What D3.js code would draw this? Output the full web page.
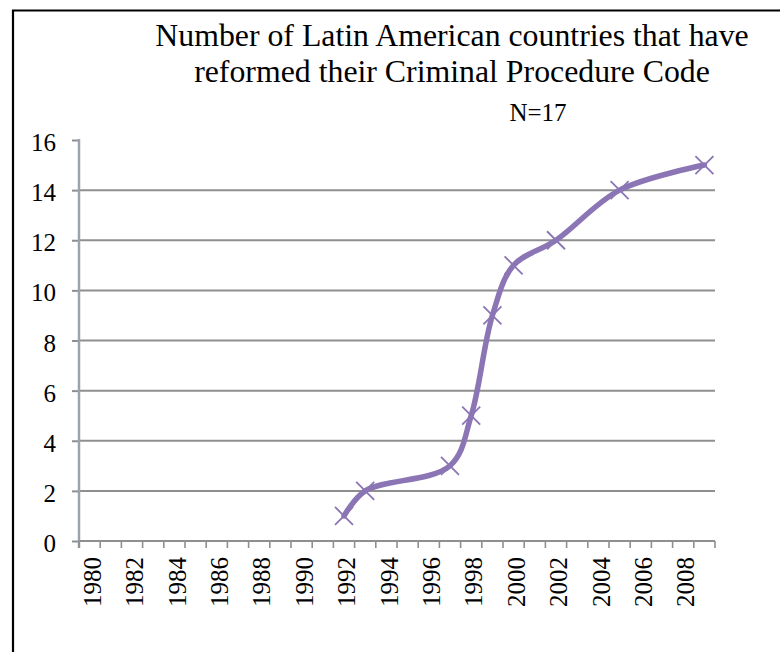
<!DOCTYPE html>
<html>
<head>
<meta charset="utf-8">
<script src="https://cdn.jsdelivr.net/npm/d3@7"></script>
<style>
  html, body { margin: 0; padding: 0; background: #fff; }
  svg { display: block; }
  text { font-family: "Liberation Serif", "Times New Roman", serif; fill: #000; }
</style>
</head>
<body>
<svg id="chart" width="780" height="652"></svg>
<script>
// Years on the category axis (one band per year)
const years = d3.range(1980, 2010);
// Years in which the cumulative count changed, and the count reached
const reformYears = [1992, 1993, 1997, 1998, 1999, 2000, 2002, 2005, 2009];
const reformCounts = [1, 2, 3, 5, 9, 11, 12, 14, 15];
// Axis tick labels
const xTickLabels = d3.range(1980, 2010, 2);
const yTicks = [0, 2, 4, 6, 8, 10, 12, 14, 16];

const titleLines = ["Number of Latin American countries that have", "reformed their Criminal Procedure Code"];
const subtitle = "N=17";

const svg = d3.select("#chart");
const W = 780, H = 652;
const plot = { left: 79, right: 715, top: 140, bottom: 541 };

// Outer frame of the chart
svg.append("path")
  .attr("d", `M13,${H + 5}V10.5H${W + 5}`)
  .attr("fill", "none").attr("stroke", "#000").attr("stroke-width", 2.2);

const x = d3.scaleBand().domain(years).range([plot.left, plot.right]).paddingInner(0).paddingOuter(0);
const y = d3.scaleLinear().domain([0, 16]).range([plot.bottom, plot.top]);

// Gradient for the top edge of the plot area
const defs = svg.append("defs");
const grad = defs.append("linearGradient").attr("id", "topEdge").attr("x1", "0%").attr("x2", "100%");
grad.append("stop").attr("offset", "0%").attr("stop-color", "#4f86c6");
grad.append("stop").attr("offset", "60%").attr("stop-color", "#a9c2e0");
grad.append("stop").attr("offset", "100%").attr("stop-color", "#f4f7fb");

// Horizontal gridlines
svg.append("g").selectAll("line")
  .data(yTicks.filter(d => d > 0 && d < 16))
  .join("line")
  .attr("x1", plot.left).attr("x2", plot.right)
  .attr("y1", d => y(d)).attr("y2", d => y(d))
  .attr("stroke", "#8f8f8f").attr("stroke-width", 2);

svg.append("line")
  .attr("x1", plot.left).attr("x2", plot.right)
  .attr("y1", y(16)).attr("y2", y(16))
  .attr("stroke", "url(#topEdge)").attr("stroke-width", 2);

// Y axis
const yAxis = d3.axisLeft(y).tickValues(yTicks).tickSize(7).tickPadding(16);
const gy = svg.append("g").attr("transform", `translate(${plot.left},0)`).call(yAxis)
  .attr("font-family", null).attr("font-size", null);
gy.select(".domain").remove();
gy.selectAll(".tick line").attr("stroke", "#8f8f8f").attr("stroke-width", 2);
gy.selectAll(".tick text")
  .attr("font-size", 25).attr("dy", "0.42em")
  .style("font-family", "'Liberation Serif', serif");
svg.append("line")
  .attr("x1", plot.left).attr("x2", plot.left)
  .attr("y1", plot.top - 1).attr("y2", plot.bottom + 7)
  .attr("stroke", "#9aa3ae").attr("stroke-width", 2.5);

// X axis: tick marks on band boundaries, labels every other year
const gx = svg.append("g");
const boundaries = years.map(d => x(d)).concat([plot.right]);
gx.append("line")
  .attr("x1", plot.left).attr("x2", plot.right)
  .attr("y1", plot.bottom).attr("y2", plot.bottom)
  .attr("stroke", "#8f8f8f").attr("stroke-width", 2.2);
gx.selectAll("line.tick")
  .data(boundaries)
  .join("line").attr("class", "tick")
  .attr("x1", d => d).attr("x2", d => d)
  .attr("y1", plot.bottom).attr("y2", plot.bottom + 7)
  .attr("stroke", "#8f8f8f").attr("stroke-width", 1.6);
gx.selectAll("text")
  .data(xTickLabels)
  .join("text")
  .attr("transform", d => `translate(${x(d) + x.bandwidth() / 2 + 2.5},${plot.bottom + 16}) rotate(-90)`)
  .attr("text-anchor", "end")
  .attr("dy", "0.35em")
  .attr("font-size", 25)
  .text(d => d);

// Data line and markers
const pts = reformYears.map((yr, i) => ({ year: yr, value: reformCounts[i] }));
const cx = d => x(d.year) + x.bandwidth() / 2;
const purple = "#8b75b5";

const line = d3.line()
  .x(cx).y(d => y(d.value))
  .curve(d3.curveCatmullRom.alpha(0.5));

svg.append("path")
  .datum(pts)
  .attr("d", line)
  .attr("fill", "none")
  .attr("stroke", purple)
  .attr("stroke-width", 5.5)
  .attr("stroke-linecap", "round")
  .attr("stroke-linejoin", "round");

const m = 9;
svg.append("g").selectAll("path")
  .data(pts)
  .join("path")
  .attr("d", d => {
    const px = cx(d), py = y(d.value);
    return `M${px - m},${py - m}L${px + m},${py + m}M${px - m},${py + m}L${px + m},${py - m}`;
  })
  .attr("stroke", purple).attr("stroke-width", 1.8).attr("fill", "none");

// Title block
svg.append("g").selectAll("text")
  .data(titleLines)
  .join("text")
  .attr("x", 452)
  .attr("y", (d, i) => 46 + i * 36)
  .attr("text-anchor", "middle")
  .attr("font-size", 31.8)
  .text(d => d);

svg.append("text")
  .attr("x", 538).attr("y", 121)
  .attr("text-anchor", "middle")
  .attr("font-size", 25)
  .text(subtitle);
</script>
</body>
</html>
